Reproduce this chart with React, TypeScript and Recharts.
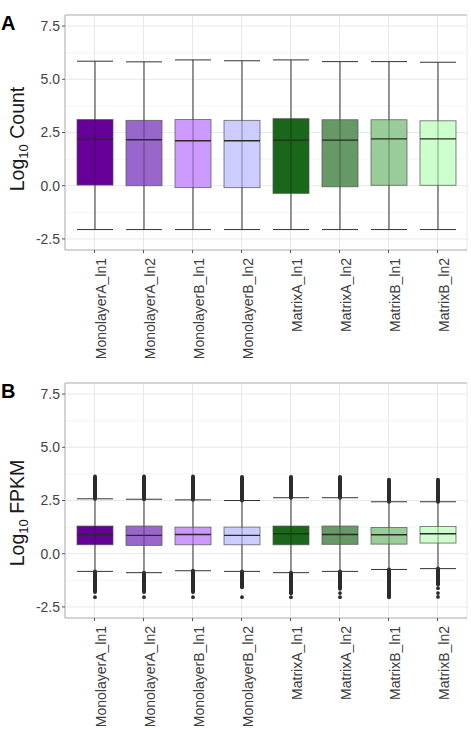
import React from 'react';
import { ComposedChart, Bar, XAxis, YAxis, CartesianGrid, ReferenceLine } from 'recharts';

const categories = ['MonolayerA_ln1', 'MonolayerA_ln2', 'MonolayerB_ln1', 'MonolayerB_ln2', 'MatrixA_ln1', 'MatrixA_ln2', 'MatrixB_ln1', 'MatrixB_ln2'];
const colors = ['#660099', '#9966CC', '#CC99FF', '#CCCCFF', '#1A661A', '#669966', '#99CC99', '#CCFFCC'];
const yTicks = [-2.5, 0, 2.5, 5, 7.5];
const yMinorTicks = [-1.25, 1.25, 3.75, 6.25];
const Y_MIN = -3.02;
const Y_MAX = 8.02;

// Panel A: Log10 Count
const countLowerWhisker = [-2.06, -2.06, -2.06, -2.06, -2.06, -2.06, -2.06, -2.06];
const countQ1 = [0.03, 0.0, -0.09, -0.09, -0.36, -0.05, 0.02, 0.02];
const countMedian = [2.18, 2.16, 2.11, 2.11, 2.14, 2.14, 2.2, 2.2];
const countQ3 = [3.11, 3.07, 3.11, 3.07, 3.15, 3.1, 3.1, 3.05];
const countUpperWhisker = [5.85, 5.82, 5.91, 5.87, 5.91, 5.83, 5.83, 5.8];

// Panel B: Log10 FPKM
const fpkmLowerWhisker = [-0.83, -0.89, -0.8, -0.83, -0.89, -0.83, -0.74, -0.7];
const fpkmQ1 = [0.42, 0.39, 0.42, 0.42, 0.42, 0.44, 0.45, 0.5];
const fpkmMedian = [0.89, 0.86, 0.9, 0.86, 0.94, 0.9, 0.89, 0.94];
const fpkmQ3 = [1.3, 1.3, 1.25, 1.25, 1.3, 1.3, 1.23, 1.28];
const fpkmUpperWhisker = [2.58, 2.56, 2.53, 2.5, 2.63, 2.63, 2.44, 2.44];
const fpkmOutlierMax = [3.63, 3.63, 3.63, 3.6, 3.6, 3.6, 3.47, 3.47];
const fpkmOutlierDenseMin = [-1.8, -1.8, -1.8, -1.57, -1.86, -1.65, -2.04, -1.45];
const fpkmIsolatedOutliers = [[-2.04], [-2.04], [-2.04], [-2.04], [-2.04], [-1.85, -2.04], [], [-1.62, -1.85, -2.03]];

const FONT = '"Liberation Sans", Arial, Helvetica, sans-serif';
const BORDER = '#b5b5b5';
const GRID = '#e8e8e8';
const GRID_MINOR = '#f4f4f4';

type Row = {
  name: string; color: string; box: [number, number]; q1: number; q3: number; median: number;
  lo: number; hi: number; outHi: number | null; outLo: number | null; iso: number[];
};

const buildRows = (q1: number[], med: number[], q3: number[], lo: number[], hi: number[], outHi?: number[], outLo?: number[], iso?: number[][]): Row[] =>
  categories.map((name, i) => ({
    name, color: colors[i], box: [q1[i], q3[i]], q1: q1[i], q3: q3[i], median: med[i], lo: lo[i], hi: hi[i],
    outHi: outHi ? outHi[i] : null, outLo: outLo ? outLo[i] : null, iso: iso ? iso[i] : [],
  }));

const countRows = buildRows(countQ1, countMedian, countQ3, countLowerWhisker, countUpperWhisker);
const fpkmRows = buildRows(fpkmQ1, fpkmMedian, fpkmQ3, fpkmLowerWhisker, fpkmUpperWhisker, fpkmOutlierMax, fpkmOutlierDenseMin, fpkmIsolatedOutliers);

const BoxShape = (props: any) => {
  const { x, y, width, height, payload } = props;
  const p: Row = payload;
  const top = Math.min(y, y + height);
  const bot = Math.max(y, y + height);
  const ppu = (bot - top) / (p.q3 - p.q1);
  const py = (v: number) => top + (p.q3 - v) * ppu;
  const cx = x + width / 2;
  const l = x;
  const r = x + width;
  const lineCol = '#333333';
  return (
    <g>
      {p.outHi !== null && (
        <line x1={cx} x2={cx} y1={py(p.hi)} y2={py(p.outHi)} stroke="#2b2b2b" strokeWidth={4} strokeLinecap="round" />
      )}
      {p.outLo !== null && (
        <line x1={cx} x2={cx} y1={py(p.lo)} y2={py(p.outLo)} stroke="#2b2b2b" strokeWidth={4} strokeLinecap="round" />
      )}
      {p.iso.map((v, k) => (
        <circle key={k} cx={cx} cy={py(v)} r={1.9} fill="#2b2b2b" />
      ))}
      <line x1={cx} x2={cx} y1={py(p.hi)} y2={py(p.lo)} stroke={lineCol} strokeWidth={1} />
      <line x1={l} x2={r} y1={py(p.hi)} y2={py(p.hi)} stroke={lineCol} strokeWidth={1} />
      <line x1={l} x2={r} y1={py(p.lo)} y2={py(p.lo)} stroke={lineCol} strokeWidth={1} />
      <rect x={l} y={top} width={width} height={bot - top} fill={p.color} stroke="#555555" strokeOpacity={0.8} strokeWidth={0.9} />
      <line x1={cx} x2={cx} y1={top} y2={bot} stroke="#000" strokeOpacity={0.35} strokeWidth={1} />
      <line x1={l} x2={r} y1={py(p.median)} y2={py(p.median)} stroke="#2a2a2a" strokeWidth={1.4} />
    </g>
  );
};

const CatTick = (props: any) => {
  const { x, y, payload } = props;
  return (
    <text transform={`translate(${x + 11},${y + 3}) rotate(-90)`} textAnchor="end" fontSize={14} fill="#3d3d3d" fontFamily={FONT}>
      {payload.value}
    </text>
  );
};

type PanelProps = {
  rows: Row[]; chartHeight: number; xAxisHeight: number; titleMain: string; titleY: number; letter: string;
};

const Panel = ({ rows, chartHeight, xAxisHeight, titleMain, titleY, letter }: PanelProps) => (
  <ComposedChart width={471} height={chartHeight} data={rows} margin={{ top: 15, right: 4, bottom: 0, left: 0 }}>
    <CartesianGrid stroke={GRID_MINOR} strokeWidth={1} vertical={false} horizontalValues={yMinorTicks} />
    <CartesianGrid stroke={GRID} strokeWidth={1} />
    <XAxis
      dataKey="name"
      type="category"
      interval={0}
      padding={{ left: 5, right: 5 }}
      height={xAxisHeight}
      tickSize={3}
      tickLine={{ stroke: '#555' }}
      axisLine={{ stroke: BORDER }}
      tick={<CatTick />}
    />
    <YAxis
      type="number"
      domain={[Y_MIN, Y_MAX]}
      ticks={yTicks}
      allowDataOverflow
      width={65}
      tickSize={3}
      tickMargin={2}
      tickLine={{ stroke: '#555' }}
      axisLine={{ stroke: BORDER }}
      tickFormatter={(v: number) => v.toFixed(1)}
      tick={{ fontSize: 14, fill: '#444', fontFamily: FONT }}
      label={{
        content: () => (
          <g>
            <text x={1} y={30} fontSize={20} fontWeight="bold" fill="#000" fontFamily={FONT}>{letter}</text>
            <text transform={`translate(24,${titleY}) rotate(-90)`} textAnchor="middle" fontSize={19.5} fill="#1a1a1a" fontFamily={FONT}>
              Log<tspan fontSize={13} dy={4}>10</tspan><tspan dy={-4}>{' ' + titleMain}</tspan>
            </text>
          </g>
        ),
      }}
    />
    <YAxis yAxisId="right" orientation="right" type="number" domain={[Y_MIN, Y_MAX]} allowDataOverflow width={0} tick={false} tickLine={false} axisLine={{ stroke: BORDER }} />
    <ReferenceLine y={Y_MAX} stroke={BORDER} strokeWidth={1} ifOverflow="visible" />
    <Bar dataKey="box" barSize={36} shape={<BoxShape />} isAnimationActive={false} activeBar={false} />
  </ComposedChart>
);

export default function App() {
  return (
    <div style={{ position: 'absolute', left: 0, top: 0, width: 471, height: 729, background: '#fff', overflow: 'hidden' }}>
      <div style={{ position: 'absolute', left: 0, top: 0 }}>
        <Panel rows={countRows} chartHeight={365} xAxisHeight={115} titleMain="Count" titleY={139} letter="A" />
      </div>
      <div style={{ position: 'absolute', left: 0, top: 368 }}>
        <Panel rows={fpkmRows} chartHeight={361} xAxisHeight={111} titleMain="FPKM" titleY={145} letter="B" />
      </div>
    </div>
  );
}
